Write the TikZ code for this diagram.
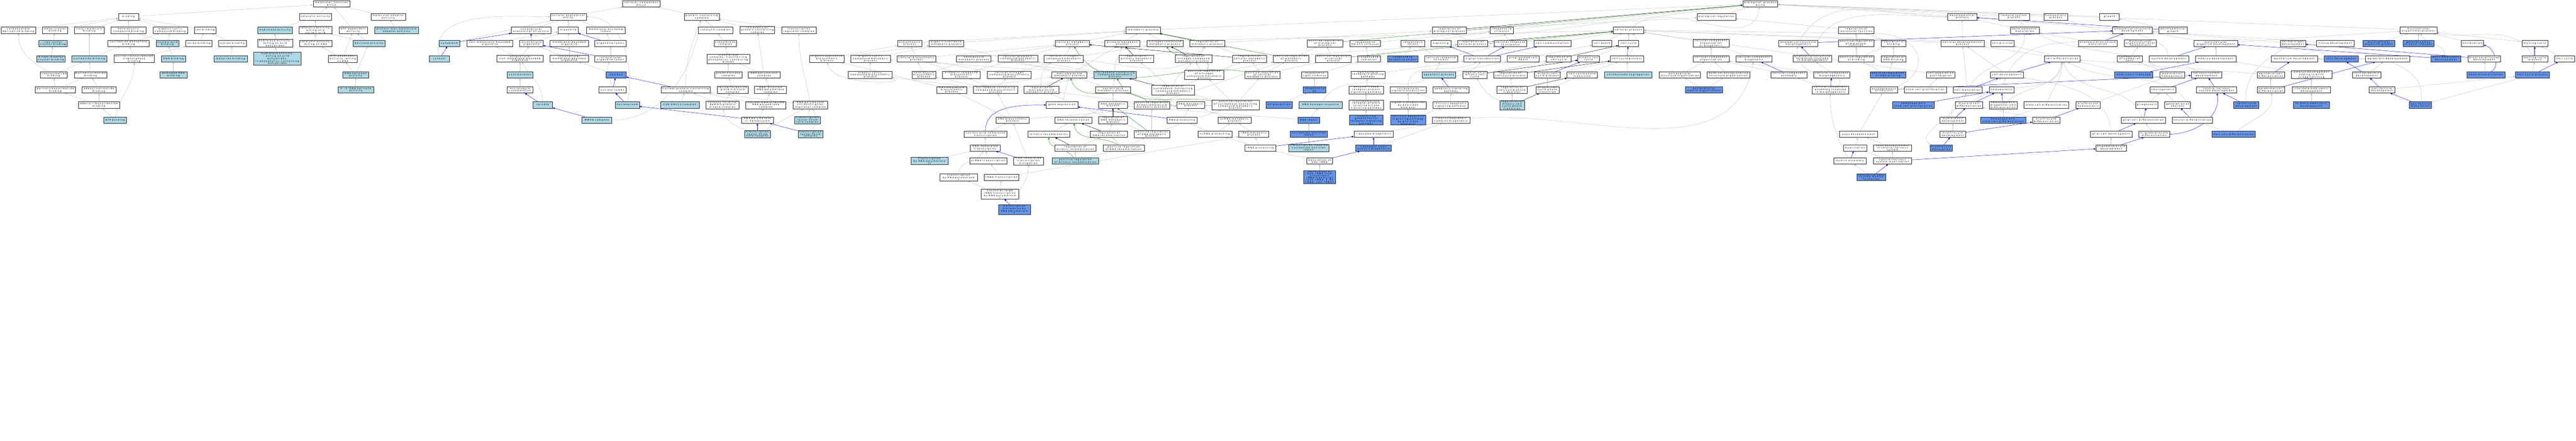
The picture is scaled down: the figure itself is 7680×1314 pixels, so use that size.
\documentclass[tikz,border=0pt]{standalone}
\usepackage{fontspec}
\newfontfamily\gofont[LetterSpace=30]{DejaVu Sans}
\usetikzlibrary{arrows.meta,shadows}
\definecolor{lbfill}{HTML}{ADD8E6}
\definecolor{cffill}{HTML}{6495ED}
\definecolor{edgegray}{HTML}{C0C0C0}
\definecolor{edgegreen}{HTML}{228B22}
\pgfdeclarelayer{bg}
\pgfsetlayers{bg,main}
\tikzset{
 box/.style={draw=black!85, line width=0.6pt, inner sep=0.8pt, minimum height=19pt, align=center,
   font=\gofont\fontsize{6.7}{5.8}\selectfont,
   drop shadow={shadow xshift=0.9pt,shadow yshift=-0.9pt,fill=black!45,opacity=1}},
 wbox/.style={box,fill=white},
 lbbox/.style={box,fill=lbfill},
 cfbox/.style={box,fill=cffill},
 hfour/.style={minimum height=26pt},
 hfive/.style={minimum height=32pt},
 hsix/.style={minimum height=37pt},
 gedge/.style={draw=edgegray, line width=0.7pt, -{Triangle[length=6pt,width=5pt]}},
 bedge/.style={draw=blue, line width=0.7pt, -{Triangle[length=6pt,width=5pt]}},
 bbedge/.style={draw=blue, line width=1.5pt, -{Triangle[length=6pt,width=5pt]}},
 vedge/.style={draw=edgegreen, line width=0.7pt, -{Triangle[length=6pt,width=5pt]}},
 kedge/.style={draw=black, line width=0.7pt, -{Triangle[length=6pt,width=5pt]}}
}
\newcommand\nd[6]{\node[#5,minimum width=#4pt] (#1) at (#2,-#3) {#6};}
\newcommand\lnG[3][]{\draw[gedge] (#2) to[#1] (#3);}
\newcommand\lnB[3][]{\draw[bedge] (#2) to[#1] (#3);}
\newcommand\lnBB[3][]{\draw[bbedge] (#2) to[#1] (#3);}
\newcommand\lnV[3][]{\draw[vedge] (#2) to[#1] (#3);}
\newcommand\lnK[3][]{\draw[kedge] (#2) to[#1] (#3);}
\begin{document}
\begin{tikzpicture}[x=1pt,y=1pt]
\useasboundingbox (0,0) rectangle (7680,-1314);
% ===== molecular function =====
\nd{mf}{988}{11}{109}{wbox}{molecular\_function\\Ercc2}
\nd{bind}{383}{50}{60}{wbox}{binding}
\nd{cat}{940}{50}{96}{wbox}{catalytic activity}
\nd{mad}{1157}{50}{103}{wbox}{molecular adaptor\\activity}
\nd{carb}{55}{90}{103}{wbox}{carbohydrate\\derivative binding}
\nd{metcl}{164}{90}{75}{wbox}{metal cluster\\binding}
\nd{smb}{266}{90}{88}{wbox}{small molecule\\binding}
\nd{het}{383}{90}{104}{wbox}{heterocyclic\\compound binding}
\nd{orgcyc}{508}{90}{104}{wbox}{organic cyclic\\compound binding}
\nd{ion}{612}{90}{65}{wbox}{ion binding}
\nd{hyd}{820}{90}{102}{lbbox}{hydrolase activity}
\nd{canuc}{940}{90}{98}{wbox}{catalytic activity,\\acting on a\\nucleic acid}
\nd{atpd}{1053}{90}{85}{wbox}{ATP-dependent\\activity}
\nd{pma}{1182}{90}{131}{lbbox}{protein-macromolecule\\adaptor activity}
\nd{fes}{158}{129}{85}{lbbox}{iron-sulfur\\cluster binding}
\nd{nph}{383}{129}{122}{wbox}{nucleoside phosphate\\binding}
\nd{nab}{499}{129}{68}{lbbox}{nucleic acid\\binding}
\nd{anion}{593}{129}{78}{wbox}{anion binding}
\nd{cation}{693}{129}{82}{wbox}{cation binding}
\nd{hydaa}{820}{129}{104}{wbox}{hydrolase activity,\\acting on acid\\anhydrides}
\nd{cadna}{941}{129}{98}{wbox}{catalytic activity,\\acting on DNA}
\nd{hel}{1100}{129}{94}{lbbox}{helicase activity}
\nd{fefs}{152}{175}{85}{lbbox}{4 iron, 4 sulfur\\cluster binding}
\nd{ntb}{266}{175}{104}{lbbox}{nucleotide binding}
\nd{prtb}{400}{175}{120}{wbox}{purine ribonucleoside\\triphosphate\\binding}
\nd{dnab}{517}{175}{71}{lbbox}{DNA binding}
\nd{metion}{687}{175}{100}{lbbox}{metal ion binding}
\nd{hydpc}{827}{175}{141}{lbbox,hfive}{hydrolase activity,\\acting on acid\\anhydrides,\\in phosphorus-containing\\anhydrides}
\nd{atpdna}{1022}{175}{86}{wbox}{ATP-dependent\\activity, acting\\on DNA}
\nd{rnb}{160}{223}{81}{wbox}{ribonucleotide\\binding}
\nd{pnb}{270}{223}{98}{wbox}{purine nucleotide\\binding}
\nd{ddna}{517}{223}{82}{lbbox}{damaged DNA\\binding}
\nd{dnahel}{1060}{223}{77}{lbbox}{DNA helicase\\activity}
\nd{prnb}{165}{268}{119}{wbox}{purine ribonucleotide\\binding}
\nd{anb}{295}{268}{102}{wbox}{adenyl nucleotide\\binding}
\nd{hel53}{1061}{268}{105}{lbbox}{5'-3' DNA helicase\\activity}
\nd{arnb}{295}{313}{122}{wbox}{adenyl ribonucleotide\\binding}
\nd{atp}{343}{358}{68}{lbbox}{ATP binding}
% ===== cellular component =====
\nd{cc}{1912}{11}{111}{wbox}{cellular\_component\\Ercc2}
\nd{cae}{1694}{50}{108}{wbox}{cellular anatomical\\entity}
\nd{pcc}{2092}{50}{104}{wbox}{protein-containing\\complex}
\nd{ias}{1583}{90}{117}{wbox}{intracellular\\anatomical structure}
\nd{org}{1694}{90}{60}{wbox}{organelle}
\nd{mel}{1806}{90}{116}{wbox}{membrane-enclosed\\lumen}
\nd{catc}{2133}{90}{102}{wbox}{catalytic complex}
\nd{ipcc}{2258}{90}{103}{wbox}{intracellular\\protein-containing\\complex}
\nd{trc}{2382}{90}{104}{wbox}{transcription\\regulator complex}
\nd{cyto}{1340}{129}{62}{lbbox}{cytoplasm}
\nd{nmbo}{1460}{129}{137}{wbox}{non-membrane-bounded\\organelle}
\nd{io}{1584}{129}{70}{wbox}{intracellular\\organelle}
\nd{mbo}{1697}{129}{115}{wbox}{membrane-bounded\\organelle}
\nd{ol}{1820}{129}{94}{wbox}{organelle lumen}
\nd{tc}{2162}{129}{66}{wbox}{transferase\\complex}
\nd{cytosol}{1310}{175}{60}{lbbox}{cytosol}
\nd{inmbo}{1550}{175}{138}{wbox}{intracellular\\non-membrane-bounded\\organelle}
\nd{imbo}{1697}{175}{115}{wbox}{intracellular\\membrane-bounded\\organelle}
\nd{iol}{1820}{175}{94}{wbox}{intracellular\\organelle lumen}
\nd{tcp}{2171}{175}{128}{wbox,hfour}{transferase\\complex, transferring\\phosphorus-containing\\groups}
\nd{cysk}{1550}{223}{76}{lbbox}{cytoskeleton}
\nd{nuc}{1837}{223}{60}{cfbox}{nucleus}
\nd{pkc}{2171}{223}{81}{wbox}{protein kinase\\complex}
\nd{rnapc}{2278}{223}{95}{wbox}{RNA polymerase\\complex}
\nd{mtc}{1550}{268}{76}{wbox}{microtubule\\cytoskeleton}
\nd{nl}{1826}{268}{82}{wbox}{nuclear lumen}
\nd{npcc}{2044}{268}{146}{wbox}{nuclear protein-containing\\complex}
\nd{stpkc}{2184}{268}{92}{wbox}{serine/threonine\\protein kinase\\complex}
\nd{ddrnap}{2297}{268}{95}{wbox}{DNA-directed\\RNA polymerase\\complex}
\nd{spindle}{1618}{313}{59}{lbbox}{spindle}
\nd{np}{1870}{313}{73}{lbbox}{nucleoplasm}
\nd{cak}{2027}{313}{115}{lbbox}{CAK-ERCC2 complex}
\nd{ctdk}{2154}{313}{98}{wbox}{carboxy-terminal\\domain protein\\kinase complex}
\nd{nddrnap}{2283}{313}{120}{wbox}{nuclear DNA-directed\\RNA polymerase\\complex}
\nd{rnaptrc}{2416}{313}{103}{wbox}{RNA polymerase\\II transcription\\regulator complex}
\nd{mmxd}{1779}{358}{88}{lbbox}{MMXD complex}
\nd{holo}{2258}{358}{95}{wbox}{RNA polymerase\\II, holoenzyme}
\nd{tfiihcore}{2407}{358}{77}{lbbox}{transcription\\factor TFIIH\\core complex}
\nd{tfiihholo}{2258}{400}{77}{lbbox}{transcription\\factor TFIIH\\holo complex}
\nd{tfiid}{2416}{400}{73}{lbbox}{transcription\\factor TFIID\\complex}
% ===== biological process =====
\nd{bp}{5248}{11}{104}{wbox}{biological\_process\\Ercc2}
\nd{breg}{5117}{50}{115}{wbox}{biological regulation}
\nd{dev}{5850}{50}{87}{wbox}{developmental\\process}
\nd{imm}{6004}{50}{92}{wbox}{immune system\\process}
\nd{homeo}{6129}{50}{71}{wbox}{homeostatic\\process}
\nd{growth}{6289}{50}{59}{wbox}{growth}
\nd{met}{3408}{90}{103}{wbox}{metabolic process}
\nd{rbp}{4321}{90}{101}{wbox}{regulation of\\biological process}
\nd{rstim}{4477}{90}{68}{wbox}{response to\\stimulus}
\nd{cp}{4855}{90}{90}{wbox}{cellular process}
\nd{rmf}{5534}{90}{106}{wbox}{regulation of\\molecular function}
\nd{devmat}{6036}{90}{86}{wbox}{developmental\\maturation}
\nd{asd}{6357}{90}{117}{wbox}{anatomical structure\\development}
\nd{devgr}{6478}{90}{85}{wbox}{developmental\\growth}
\nd{mop}{7210}{90}{110}{wbox}{multicellular\\organismal process}
\nd{bios}{2712}{129}{72}{wbox}{biosynthetic\\process}
\nd{osmp}{2821}{129}{103}{wbox}{organic substance\\metabolic process}
\nd{cmp}{3197}{129}{101}{wbox}{cellular metabolic\\process}
\nd{pmp}{3346}{129}{104}{wbox}{primary metabolic\\process}
\nd{ncmp}{3473}{129}{108}{wbox}{nitrogen compound\\metabolic process}
\nd{rmp}{3599}{129}{104}{wbox}{regulation of\\metabolic process}
\nd{prbp}{3950}{129}{106}{wbox}{positive regulation\\of biological\\process}
\nd{rabs}{4070}{129}{91}{wbox}{response to\\abiotic stimulus}
\nd{rstress}{4212}{129}{70}{wbox}{response to\\stress}
\nd{sig}{4295}{129}{60}{wbox}{signaling}
\nd{rcp}{4390}{129}{89}{wbox}{regulation of\\cellular process}
\nd{crstim}{4503}{129}{97}{wbox}{cellular response\\to stimulus}
\nd{ccomm}{4628}{129}{110}{wbox}{cell communication}
\nd{cdeath}{4776}{129}{59}{wbox}{cell death}
\nd{ccycle}{4855}{129}{60}{wbox}{cell cycle}
\nd{ccob}{5101}{129}{108}{wbox}{cellular component\\organization\\or biogenesis}
\nd{asm}{5361}{129}{117}{wbox}{anatomical structure\\morphogenesis}
\nd{prmf}{5534}{129}{106}{wbox}{positive regulation\\of molecular\\function}
\nd{rbind}{5645}{129}{73}{wbox}{regulation of\\binding}
\nd{cdp}{5851}{129}{128}{wbox}{cellular developmental\\process}
\nd{cdiv}{5970}{129}{69}{wbox}{cell division}
\nd{asmat}{6254}{129}{116}{wbox}{anatomical structure\\maturation}
\nd{mol}{6381}{129}{96}{wbox}{multicellular\\organismal-level\\homeostasis}
\nd{mod}{6606}{129}{130}{wbox}{multicellular\\organism development}
\nd{aod}{6836}{129}{75}{wbox}{animal organ\\development}
\nd{tissue}{6962}{129}{111}{wbox}{tissue development}
\nd{mog}{7092}{129}{96}{cfbox}{multicellular\\organism growth}
\nd{dal}{7210}{129}{92}{cfbox}{determination\\of adult lifespan}
\nd{oss}{7371}{129}{66}{wbox}{ossification}
\nd{molt}{7557}{129}{77}{wbox}{molting cycle}
\nd{osbp}{2465}{175}{102}{wbox}{organic substance\\biosynthetic\\process}
\nd{occmp}{2595}{175}{118}{wbox}{organic cyclic\\compound metabolic\\process}
\nd{cbp}{2732}{175}{114}{wbox}{cellular biosynthetic\\process}
\nd{hmp}{2903}{175}{103}{wbox}{heterocycle\\metabolic process}
\nd{cacmp}{3034}{175}{118}{wbox}{cellular aromatic\\compound metabolic\\process}
\nd{cncmp}{3171}{175}{117}{wbox}{cellular nitrogen\\compound metabolic\\process}
\nd{rpmp}{3388}{175}{104}{wbox}{regulation of\\primary metabolic\\process}
\nd{rncmp}{3558}{175}{109}{wbox}{regulation of\\nitrogen compound\\metabolic process}
\nd{rcmp}{3725}{175}{102}{wbox}{regulation of\\cellular metabolic\\process}
\nd{prmp}{3849}{175}{106}{wbox}{positive regulation\\of metabolic\\process}
\nd{prcp}{3975}{175}{106}{wbox}{positive regulation\\of cellular\\process}
\nd{rrad}{4081}{175}{68}{wbox}{response to\\radiation}
\nd{rox}{4182}{175}{91}{cfbox}{response to\\oxidative stress}
\nd{crstress}{4296}{175}{98}{wbox}{cellular response\\to stress}
\nd{st}{4419}{175}{109}{wbox}{signal transduction}
\nd{pcd}{4541}{175}{96}{wbox}{programmed cell\\death}
\nd{rcc}{4647}{175}{73}{wbox}{regulation of\\cell cycle}
\nd{mcc}{4736}{175}{64}{wbox}{mitotic cell\\cycle}
\nd{ccp}{4850}{175}{100}{wbox}{cell cycle process}
\nd{cco}{5101}{175}{108}{wbox}{cellular component\\organization}
\nd{ccb}{5229}{175}{108}{wbox}{cellular component\\biogenesis}
\nd{asfm}{5403}{175}{116}{wbox}{anatomical structure\\formation involved\\in morphogenesis}
\nd{prb}{5534}{175}{106}{wbox}{positive regulation\\of binding}
\nd{rdnab}{5645}{175}{73}{wbox}{regulation of\\DNA binding}
\nd{cdiff}{6148}{175}{105}{wbox}{cell differentiation}
\nd{hnc}{6349}{175}{75}{wbox}{homeostasis\\of number of\\cells}
\nd{sysdev}{6466}{175}{118}{wbox}{system development}
\nd{embdev}{6606}{175}{122}{wbox}{embryo development}
\nd{epdev}{6840}{175}{137}{wbox}{epithelium development}
\nd{skin}{6980}{175}{102}{cfbox}{skin development}
\nd{epid}{7118}{175}{133}{wbox}{epidermis development}
\nd{ped}{7292}{175}{89}{cfbox}{post-embryonic\\development}
\nd{btd}{7406}{175}{97}{wbox}{biomineral tissue\\development}
\nd{mcp}{7557}{175}{77}{wbox}{molting cycle\\process}
\nd{hc}{7646}{175}{60}{wbox}{hair cycle}
\nd{occbp}{2594}{223}{131}{wbox}{organic cyclic\\compound biosynthetic\\process}
\nd{hbp}{2754}{223}{71}{wbox}{heterocycle\\biosynthetic\\process}
\nd{acbp}{2866}{223}{112}{wbox}{aromatic compound\\biosynthetic\\process}
\nd{cncbp}{3009}{223}{131}{wbox}{cellular nitrogen\\compound biosynthetic\\process}
\nd{mmp}{3188}{223}{104}{wbox}{macromolecule\\metabolic process}
\nd{ncmpb}{3324}{223}{126}{lbbox}{nucleobase-containing\\compound metabolic\\process}
\nd{prncmp}{3590}{223}{117}{wbox,hfour}{positive regulation\\of nitrogen\\compound metabolic\\process}
\nd{prcmp}{3763}{223}{105}{wbox}{positive regulation\\of cellular\\metabolic process}
\nd{rls}{3919}{223}{78}{wbox}{response to\\light stimulus}
\nd{csr}{4078}{223}{102}{wbox}{cell surface\\receptor signaling\\pathway}
\nd{apo}{4290}{223}{100}{lbbox}{apoptotic process}
\nd{rmcc}{4397}{223}{73}{wbox}{regulation of\\mitotic cell\\cycle}
\nd{rccp}{4503}{223}{100}{wbox}{regulation of\\cell cycle process}
\nd{mccp}{4613}{223}{77}{wbox}{mitotic cell\\cycle process}
\nd{ccpt}{4717}{223}{91}{wbox}{cell cycle phase\\transition}
\nd{chrom}{4854}{223}{142}{lbbox}{chromosome segregation}
\nd{eso}{5008}{223}{123}{wbox}{extracellular\\structure organization}
\nd{eeso}{5153}{223}{128}{wbox}{external encapsulating\\structure organization}
\nd{cca}{5333}{223}{108}{wbox}{cellular component\\assembly}
\nd{ccm}{5461}{223}{108}{wbox}{cellular component\\morphogenesis}
\nd{prdnab}{5629}{223}{106}{cfbox}{positive regulation\\of DNA binding}
\nd{cpp}{5786}{223}{85}{wbox}{cell population\\proliferation}
\nd{cdev}{5983}{223}{98}{wbox}{cell development}
\nd{emcl}{6361}{223}{114}{cfbox}{embryonic cleavage}
\nd{mch}{6476}{223}{74}{wbox}{myeloid cell\\homeostasis}
\nd{nsd}{6578}{223}{91}{wbox}{nervous system\\development}
\nd{epcd}{6770}{223}{81}{wbox}{epithelial cell\\differentiation}
\nd{edeb}{6891}{223}{121}{wbox}{embryo development\\ending in birth\\or egg hatching}
\nd{sed}{7056}{223}{84}{wbox}{skin epidermis\\development}
\nd{bmin}{7411}{223}{113}{cfbox}{bone mineralization}
\nd{hcp}{7550}{223}{101}{cfbox}{hair cycle process}
\nd{mbp}{2837}{268}{89}{wbox}{macromolecule\\biosynthetic\\process}
\nd{ncbp}{2968}{268}{131}{wbox}{nucleobase-containing\\compound biosynthetic\\process}
\nd{rmmp}{3105}{268}{105}{wbox}{regulation of\\macromolecule\\metabolic process}
\nd{namp}{3318}{268}{103}{wbox}{nucleic acid\\metabolic process}
\nd{rncmpb}{3497}{268}{127}{wbox,hfour}{regulation of\\nucleobase-containing\\compound metabolic\\process}
\nd{ruv}{3919}{268}{68}{cfbox}{response to\\UV}
\nd{elrp}{4073}{268}{103}{wbox}{enzyme-linked\\receptor protein\\signaling pathway}
\nd{ist}{4198}{268}{108}{wbox}{intracellular\\signal transduction}
\nd{asp}{4326}{268}{108}{wbox}{apoptotic signaling\\pathway}
\nd{rccpt}{4508}{268}{91}{wbox}{regulation of\\cell cycle phase\\transition}
\nd{mccpt}{4613}{268}{69}{wbox}{mitotic cell\\cycle phase\\transition}
\nd{ecmo}{5080}{268}{110}{cfbox}{extracellular\\matrix organization}
\nd{ccaim}{5457}{268}{108}{wbox}{cellular component\\assembly involved\\in morphogenesis}
\nd{eon}{5617}{268}{82}{wbox}{ensheathment\\of neurons}
\nd{scp}{5740}{268}{125}{wbox}{stem cell proliferation}
\nd{cmat}{5866}{268}{86}{wbox}{cell maturation}
\nd{hemo}{5967}{268}{74}{wbox}{hemopoiesis}
\nd{neurog}{6448}{268}{77}{wbox}{neurogenesis}
\nd{cnsd}{6608}{268}{119}{wbox}{central nervous\\system development}
\nd{edcd}{6770}{268}{81}{wbox}{epidermal cell\\differentiation}
\nd{ced}{6891}{268}{113}{wbox}{chordate embryonic\\development}
\nd{hfd}{7101}{268}{76}{wbox}{hair follicle\\development}
\nd{gexp}{3166}{313}{94}{wbox}{gene expression}
\nd{dnamp}{3318}{313}{86}{wbox}{DNA metabolic\\process}
\nd{prmmp}{3434}{313}{105}{wbox}{positive regulation\\of macromolecule\\metabolic process}
\nd{rnamp}{3550}{313}{84}{wbox}{RNA metabolic\\process}
\nd{prncmpb}{3683}{313}{141}{wbox,hfour}{positive regulation\\of nucleobase-containing\\compound metabolic\\process}
\nd{uvp}{3813}{313}{78}{cfbox}{UV protection}
\nd{ddr}{3937}{313}{128}{lbbox}{DNA damage response}
\nd{tmrtk}{4073}{313}{103}{wbox,hfour}{transmembrane\\receptor protein\\tyrosine kinase\\signaling pathway}
\nd{stp}{4198}{313}{108}{wbox}{signal transduction\\by p53 class\\mediator}
\nd{iasp}{4324}{313}{104}{wbox}{intrinsic apoptotic\\signaling pathway}
\nd{rmccpt}{4508}{313}{73}{lbbox,hfour}{regulation of\\mitotic cell\\cycle phase\\transition}
\nd{hscp}{5704}{313}{124}{cfbox}{hematopoietic\\stem cell proliferation}
\nd{mcd}{5870}{313}{81}{wbox}{myeloid cell\\differentiation}
\nd{hpcd}{5972}{313}{82}{wbox}{hematopoietic\\progenitor cell\\differentiation}
\nd{scd}{6101}{313}{134}{wbox}{stem cell differentiation}
\nd{eh}{6225}{313}{73}{wbox}{erythrocyte\\homeostasis}
\nd{glio}{6400}{313}{66}{wbox}{gliogenesis}
\nd{gon}{6492}{313}{77}{wbox}{generation of\\neurons}
\nd{scdev}{6697}{313}{75}{cfbox}{spinal cord\\development}
\nd{iued}{6891}{313}{107}{cfbox}{in utero embryonic\\development}
\nd{hfm}{7216}{313}{66}{cfbox}{hair follicle\\maturation}
\nd{rnabp}{3018}{358}{98}{wbox}{RNA biosynthetic\\process}
\nd{dnarec}{3200}{358}{111}{wbox}{DNA recombination}
\nd{rdnamp}{3318}{358}{86}{wbox}{regulation of\\DNA metabolic\\process}
\nd{rnaproc}{3524}{358}{89}{wbox}{RNA processing}
\nd{ncrnamp}{3680}{358}{98}{wbox}{ncRNA metabolic\\process}
\nd{dnarep}{3902}{358}{65}{cfbox}{DNA repair}
\nd{igf}{4073}{358}{101}{cfbox,hfour}{insulin-like\\growth factor\\receptor signaling\\pathway}
\nd{iap}{4198}{358}{104}{cfbox,hfour}{intrinsic apoptotic\\signaling pathway\\by p53 class\\mediator}
\nd{rnpcb}{4326}{358}{112}{wbox}{ribonucleoprotein\\complex biogenesis}
\nd{mcdev}{5822}{358}{76}{wbox}{myeloid cell\\development}
\nd{hscd}{5972}{358}{135}{cfbox}{hematopoietic\\stem cell differentiation}
\nd{ediff}{6100}{358}{81}{wbox}{erythrocyte\\differentiation}
\nd{gcd}{6390}{358}{131}{wbox}{glial cell differentiation}
\nd{nd}{6536}{358}{121}{wbox}{neuron differentiation}
\nd{natt}{2938}{400}{128}{wbox}{nucleic acid-templated\\transcription}
\nd{mrec}{3127}{400}{124}{wbox}{mitotic recombination}
\nd{rdnarec}{3306}{400}{110}{wbox}{regulation of\\DNA recombination}
\nd{prdnamp}{3434}{400}{105}{wbox}{positive regulation\\of DNA metabolic\\process}
\nd{ncrnaproc}{3622}{400}{101}{wbox}{ncRNA processing}
\nd{rrnamp}{3738}{400}{89}{wbox}{rRNA metabolic\\process}
\nd{ner}{3902}{400}{111}{cfbox}{nucleotide-excision\\repair}
\nd{ribo}{4095}{400}{117}{wbox}{ribosome biogenesis}
\nd{axens}{5541}{400}{113}{wbox}{axon ensheathment}
\nd{edev}{5822}{400}{76}{wbox}{erythrocyte\\development}
\nd{gcdev}{6294}{400}{124}{wbox}{glial cell development}
\nd{odiff}{6422}{400}{92}{wbox}{oligodendrocyte\\differentiation}
\nd{hcd}{6659}{400}{128}{cfbox}{hair cell differentiation}
\nd{dtt}{2937}{441}{89}{wbox}{DNA-templated\\transcription}
\nd{rmrec}{3206}{441}{124}{wbox}{regulation of\\mitotic recombination}
\nd{prdnarec}{3350}{441}{123}{wbox}{positive regulation\\of DNA recombination}
\nd{rrnaproc}{3757}{441}{93}{wbox}{rRNA processing}
\nd{tcner}{3902}{441}{119}{lbbox}{transcription-coupled\\nucleotide-excision\\repair}
\nd{rssb}{4095}{441}{106}{cfbox}{ribosomal small\\subunit biogenesis}
\nd{myel}{5530}{441}{69}{wbox}{myelination}
\nd{aecns}{5642}{441}{113}{wbox}{axon ensheathment\\in central nervous\\system}
\nd{emat}{5787}{441}{67}{cfbox}{erythrocyte\\maturation}
\nd{odev}{6294}{441}{91}{wbox}{oligodendrocyte\\development}
\nd{trpii}{2771}{480}{111}{lbbox}{transcription\\by RNA polymerase\\II}
\nd{ncrnat}{2946}{480}{111}{wbox}{ncRNA transcription}
\nd{dtte}{3066}{480}{88}{wbox}{DNA-templated\\transcription\\elongation}
\nd{prmrec}{3206}{480}{137}{lbbox}{positive regulation\\of mitotic recombination}
\nd{mssu}{3934}{480}{77}{wbox}{maturation of\\SSU-rRNA}
\nd{myas}{5515}{480}{97}{wbox}{myelin assembly}
\nd{cnsm}{5642}{480}{113}{wbox}{central nervous\\system myelination}
\nd{trpi}{2858}{529}{111}{wbox}{transcription\\by RNA polymerase\\I}
\nd{rrnat}{2986}{529}{103}{wbox}{rRNA transcription}
\nd{mssutri}{3934}{528}{95}{cfbox,hsix}{maturation of\\SSU-rRNA from\\tricistronic\\rRNA transcript\\(SSU-rRNA, 5.8S\\rRNA, LSU-rRNA)}
\nd{cnsmf}{5579}{528}{87}{cfbox}{central nervous\\system myelin\\formation}
\nd{nlrt}{2981}{579}{111}{wbox,hfour}{nucleolar large\\rRNA transcription\\by RNA polymerase\\I}
\nd{tep}{3024}{625}{95}{cfbox,hfour}{transcription\\elongation by\\RNA polymerase\\I}
\begin{pgfonlayer}{bg}
\fill[white] (0,0) rectangle (7680,-1314);
% MF edges
\lnG{bind}{mf}\lnG{cat}{mf}\lnG{mad}{mf}\lnG{atpd}{mf}
\lnG{carb}{bind}\lnG{metcl}{bind}\lnG{smb}{bind}\lnG{het}{bind}\lnG{orgcyc}{bind}\lnG{ion}{bind}
\lnG{hyd}{cat}\lnG{canuc}{cat}\lnG{pma}{mad}\lnG{fes}{metcl}
\lnG{nph}{het}\lnG{nph}{orgcyc}\lnG{nab}{het}\lnG{nab}{orgcyc}
\lnG{anion}{ion}\lnG{cation}{ion}\lnG{hydaa}{hyd}\lnG{cadna}{canuc}\lnG{hel}{canuc}\lnG{hel}{atpd}
\lnG{fefs}{fes}\lnG{ntb}{nph}\lnG{ntb}{smb}\lnG{prtb}{nph}\lnG{prtb}{anion}\lnG{dnab}{nab}\lnG{metion}{cation}\lnG{hydpc}{hydaa}\lnG{atpdna}{cadna}\lnG{atpdna}{atpd}
\lnG{rnb}{ntb}\lnG[out=150,in=-90]{rnb}{carb}\lnG{pnb}{ntb}\lnG{ddna}{dnab}\lnG{dnahel}{atpdna}\lnG{dnahel}{hel}
\lnG{prnb}{rnb}\lnG{prnb}{pnb}\lnG{anb}{pnb}\lnG{hel53}{dnahel}\lnG{arnb}{prnb}\lnG{arnb}{anb}\lnG{atp}{arnb}\lnG[out=80,in=-90]{atp}{prtb}
% CC edges
\lnG{cae}{cc}\lnG{pcc}{cc}
\lnG{ias}{cae}\lnG{org}{cae}\lnG{mel}{cae}\lnG{cyto}{cae}\lnG[out=100,in=180]{cytosol}{cae}\lnG[out=80,in=0]{np}{cae}
\lnB{cyto}{ias}\lnG{nmbo}{org}\lnG{io}{org}\lnB{io}{ias}\lnG{mbo}{org}\lnB{ol}{org}\lnG{ol}{mel}\lnB{cytosol}{cyto}
\lnG{inmbo}{nmbo}\lnG{inmbo}{io}\lnG{imbo}{io}\lnG{imbo}{mbo}\lnB{iol}{io}\lnG{iol}{ol}
\lnG{cysk}{inmbo}\lnG{nuc}{imbo}\lnG{mtc}{cysk}\lnB{nl}{nuc}\lnG[out=100,in=-110]{nl}{iol}
\lnB{spindle}{mtc}\lnG[out=90,in=-60]{spindle}{inmbo}\lnB{np}{nl}\lnB{mmxd}{spindle}\lnG[out=0,in=-100]{mmxd}{pcc}
\lnG[out=90,in=-110]{npcc}{pcc}\lnB{npcc}{nuc}\lnG{catc}{pcc}\lnG{ipcc}{pcc}\lnG{trc}{pcc}
\lnG{tc}{catc}\lnG{tcp}{tc}\lnG{pkc}{tcp}\lnG{rnapc}{tcp}\lnG{rnapc}{ipcc}\lnG{stpkc}{pkc}\lnG{ddrnap}{rnapc}
\lnG{cak}{npcc}\lnG{ctdk}{npcc}\lnG{ctdk}{stpkc}\lnG{nddrnap}{npcc}\lnG{nddrnap}{ddrnap}\lnG{rnaptrc}{npcc}\lnG[out=100,in=-90]{rnaptrc}{trc}
\lnG{holo}{nddrnap}\lnB{holo}{np}\lnG{tfiihcore}{rnaptrc}\lnBB{tfiihholo}{holo}\lnG[out=160,in=-80]{tfiihholo}{ctdk}\lnG{tfiihholo}{rnaptrc}\lnB{tfiid}{holo}\lnG[out=60,in=-60]{tfiid}{rnaptrc}
% BP top
\lnG{breg}{bp}\lnG{dev}{bp}\lnG{imm}{bp}\lnG{homeo}{bp}\lnG{growth}{bp}\lnG{met}{bp}\lnG{rstim}{bp}\lnG[out=40,in=-100]{cp}{bp}\lnG{mop}{bp}\lnG{sig}{bp}
\lnK{rbp}{bp}\lnV{prbp}{bp}
\lnG{rbp}{breg}\lnG{rmf}{breg}
\lnG{devmat}{dev}\lnG{asd}{dev}\lnG{cdp}{dev}\lnB{devgr}{dev}\lnG{devgr}{growth}
% metabolic
\lnG{bios}{met}\lnG{osmp}{met}\lnG{cmp}{met}\lnG{pmp}{met}\lnG{ncmp}{met}\lnK{rmp}{met}\lnV{prmp}{met}
\lnG{cmp}{cp}\lnG{rmp}{rbp}
\lnG{osbp}{bios}\lnG{osbp}{osmp}\lnG{occmp}{osmp}
\lnG{cbp}{bios}\lnG{cbp}{cmp}\lnG{hmp}{cmp}\lnG{cacmp}{cmp}\lnG{cncmp}{cmp}\lnG{cncmp}{ncmp}
\lnG{occbp}{occmp}\lnG[out=-10,in=-80]{occbp}{osbp}
\lnG{hbp}{hmp}\lnG{hbp}{cbp}\lnG{acbp}{cbp}\lnG{acbp}{cacmp}\lnG{cncbp}{cncmp}\lnG{cncbp}{cbp}
\lnG{mmp}{pmp}\lnG{mmp}{osmp}
\lnG{ncmpb}{hmp}\lnG{ncmpb}{cacmp}\lnG{ncmpb}{cncmp}\lnG[out=95,in=-100]{ncmpb}{pmp}\lnG{ncmpb}{occmp}
\lnG{mbp}{mmp}\lnG{mbp}{osbp}
\lnG{ncbp}{ncmpb}\lnG{ncbp}{hbp}\lnG{ncbp}{acbp}\lnG{ncbp}{cncbp}\lnG{ncbp}{occbp}
\lnK{rmmp}{mmp}\lnG[out=95,in=-120]{rmmp}{rmp}
\lnG{gexp}{mmp}\lnV[out=140,in=-70]{prmmp}{mmp}
\lnG{rnabp}{mbp}\lnG{rnabp}{ncbp}\lnG{rnabp}{rnamp}
\lnG{natt}{rnabp}\lnB[out=90,in=180]{natt}{gexp}
\lnG{dtt}{natt}\lnG{trpii}{dtt}\lnG{ncrnat}{dtt}\lnB{dtte}{dtt}\lnG{dtte}{rnabp}\lnG[out=90,in=-120]{trpi}{dtt}
\lnG{rrnat}{ncrnat}\lnG{rrnat}{rrnamp}\lnG{nlrt}{trpi}\lnG{nlrt}{rrnat}\lnB{tep}{nlrt}\lnG[out=80,in=-90]{tep}{dtte}
\lnG{mrec}{dnarec}\lnG{dnarec}{dnamp}\lnK{rmrec}{mrec}\lnV[out=120,in=-90]{prmrec}{mrec}\lnG{prmrec}{rmrec}\lnG{prmrec}{prdnarec}\lnG{rmrec}{rdnarec}
\lnK{rpmp}{pmp}\lnG{rpmp}{rmp}\lnK{rncmp}{ncmp}\lnG{rncmp}{rmp}\lnK{rcmp}{cmp}\lnG{rcmp}{rmp}\lnG{rcmp}{rcp}\lnG{prmp}{rmp}\lnG{prmp}{prbp}
\lnG{namp}{ncmpb}\lnG{namp}{mmp}
\lnK{rncmpb}{ncmpb}\lnG{rncmpb}{rpmp}\lnG[out=80,in=-120]{rncmpb}{rncmp}\lnG{rncmpb}{rcmp}
\lnV[out=60,in=-60]{prncmp}{ncmp}\lnG{prncmp}{rncmp}\lnG{prncmp}{prmp}
\lnV[out=170,in=-60]{prcmp}{cmp}\lnG{prcmp}{rcmp}\lnG{prcmp}{prmp}\lnG{prcmp}{prcp}
\lnG{dnamp}{namp}\lnG{rnamp}{namp}
\lnG{prmmp}{rmmp}\lnG{prmmp}{prmp}
\lnV[out=170,in=-60]{prncmpb}{ncmpb}\lnG{prncmpb}{rncmpb}\lnG{prncmpb}{prncmp}\lnG{prncmpb}{prcmp}\lnG{prncmpb}{prmmp}
\lnG{rnaproc}{rnamp}\lnB{rnaproc}{gexp}\lnG{ncrnamp}{rnamp}\lnG{ncrnaproc}{ncrnamp}\lnG{ncrnaproc}{rnaproc}\lnG{rrnamp}{ncrnamp}\lnG{rrnaproc}{rrnamp}\lnG{rrnaproc}{ncrnaproc}
\lnK{rdnamp}{dnamp}\lnG[out=150,in=-150]{rdnamp}{rncmpb}\lnG{rdnamp}{rmmp}
\lnK{rdnarec}{dnarec}\lnG{rdnarec}{rdnamp}
\lnV{prdnamp}{dnamp}\lnG{prdnamp}{rdnamp}\lnG{prdnamp}{prmmp}\lnG{prdnamp}{prncmpb}
\lnV[out=150,in=-80]{prdnarec}{dnarec}\lnG{prdnarec}{rdnarec}\lnG{prdnarec}{prdnamp}
\lnG{uvp}{ruv}
% response & signaling
\lnG{rabs}{rstim}\lnG{rstress}{rstim}\lnG{rrad}{rabs}\lnG{rls}{rrad}\lnG{ruv}{rls}\lnG{rox}{rstress}\lnG{crstress}{rstress}\lnG{crstress}{crstim}\lnG[out=60,in=-110]{ddr}{crstress}
\lnG{dnarep}{ddr}\lnG{dnarep}{dnamp}\lnG{ner}{dnarep}\lnG{tcner}{ner}\lnG{crstim}{rstim}\lnG{crstim}{cp}
\lnG{rcp}{rbp}\lnK{rcp}{cp}
\lnV{prcp}{cp}\lnG{prcp}{prbp}\lnG{prcp}{rcp}
\lnB{st}{sig}\lnB{st}{crstim}\lnB{st}{ccomm}\lnG{csr}{st}\lnG{elrp}{csr}\lnG{tmrtk}{elrp}\lnG{igf}{tmrtk}\lnG[out=90,in=-150]{ist}{st}\lnG{stp}{ist}\lnG{iap}{stp}\lnG{iap}{iasp}
\lnG{apo}{pcd}\lnB{asp}{apo}\lnG[out=150,in=-120]{asp}{st}\lnG{iasp}{asp}\lnG{iasp}{ist}\lnG{pcd}{cdeath}\lnG{cdeath}{cp}\lnG{ccomm}{cp}
% cell cycle
\lnG{ccycle}{cp}\lnG[out=60,in=-40]{ccp}{cp}\lnB{ccp}{ccycle}\lnG{mcc}{ccycle}\lnG{chrom}{ccp}\lnG{mccp}{ccp}\lnB{mccp}{mcc}\lnG{ccpt}{ccp}\lnG{mccpt}{mccp}\lnG{mccpt}{ccpt}
\lnK{rcc}{ccycle}\lnG{rcc}{rcp}\lnK{rmcc}{mcc}\lnG{rmcc}{rcc}\lnK{rccp}{ccp}\lnG{rccp}{rcc}\lnK{rccpt}{ccpt}\lnG{rccpt}{rccp}\lnK{rmccpt}{mccpt}\lnG{rmccpt}{rccpt}\lnG[out=160,in=-60]{rmccpt}{rmcc}
% component organization
\lnG{ccob}{cp}\lnG{cco}{ccob}\lnG{ccb}{ccob}\lnG{eso}{cco}\lnG{eeso}{cco}\lnG{ecmo}{eso}\lnG{ecmo}{eeso}\lnB{cca}{ccb}\lnG{cca}{cco}\lnG{ccm}{cco}\lnG[out=170,in=-100]{ccm}{asm}
\lnB{ccaim}{ccm}\lnG{ccaim}{cca}\lnG[out=30,in=-40]{ccaim}{asfm}\lnB{asfm}{asm}\lnG[out=80,in=180]{asfm}{dev}\lnG[out=60,in=180]{asm}{dev}\lnB{asm}{asd}
\lnG{prmf}{rmf}\lnG{rbind}{rmf}\lnG{prb}{prmf}\lnG{prb}{rbind}\lnG{rdnab}{rbind}\lnG{prdnab}{prb}\lnG{prdnab}{rdnab}
% myelin
\lnB{eon}{nsd}
\draw[gedge] (eon.north east) .. controls (5760,-210) and (5730,-105) .. (5600,-100) -- (cp.east);
\lnG{axens}{eon}\lnG{myel}{axens}\lnG{aecns}{axens}\lnB{myas}{myel}\lnG[out=120,in=-90]{myas}{ccaim}\lnG{cnsm}{myel}\lnG{cnsm}{aecns}\lnB{cnsm}{odev}\lnG{cnsmf}{myas}\lnB{cnsmf}{cnsm}
% development
\lnG{scp}{cpp}\lnG[out=160,in=-110]{emat}{cmat}\lnB{emat}{edev}\lnG{cpp}{cp}\lnG{cdp}{cp}\lnG{cdiv}{cp}
\lnG{cdiff}{cdp}\lnB{cdev}{cdiff}\lnG{cdev}{cdp}\lnG[out=60,in=-160]{cdev}{asd}\lnG{cmat}{cdp}\lnG[out=60,in=-90]{cmat}{devmat}\lnB{cmat}{cdev}
\lnG{hemo}{cdev}\lnG[out=150,in=-40]{mch}{imm}\lnB{hscp}{hemo}\lnB{mcd}{hemo}\lnB{hpcd}{hemo}\lnG[out=40,in=-100]{mcd}{cdiff}\lnG[out=40,in=-95]{hpcd}{cdiff}\lnG[out=70,in=-90]{scd}{cdiff}
\lnG{eh}{mch}\lnB{mcdev}{mcd}\lnG[out=100,in=-150]{mcdev}{cdev}\lnG{hscd}{hpcd}\lnG{hscd}{scd}\lnG{ediff}{mcd}\lnB{ediff}{eh}\lnG{edev}{mcdev}\lnB{edev}{ediff}
\lnG{glio}{neurog}\lnB{gcd}{glio}\lnG[out=110,in=-70]{gcd}{cdiff}\lnB{gcdev}{gcd}\lnG[out=95,in=-10]{gcdev}{cdev}\lnG{odiff}{gcd}\lnB[out=0,in=-80]{odiff}{cnsd}\lnG{odev}{gcdev}\lnB{odev}{odiff}
\lnG{gon}{neurog}\lnB{neurog}{nsd}\lnB{nd}{gon}\lnG[out=100,in=-30]{nd}{cdiff}\lnG{hcd}{nd}\lnG[out=40,in=-80]{hcd}{edcd}
\lnB{cnsd}{nsd}\lnB{scdev}{cnsd}\lnG[out=95,in=-150]{scdev}{aod}
\lnG{nsd}{sysdev}\lnB{sysdev}{mod}\lnG[out=100,in=-30]{sysdev}{asd}
\lnG{embdev}{mod}\lnG{mod}{asd}\lnG{mod}{mop}\lnG{aod}{asd}\lnG{tissue}{asd}
\lnG{epdev}{tissue}\lnG{skin}{aod}\lnB{epcd}{epdev}\lnG{epcd}{cdiff}\lnG{edcd}{epcd}\lnB{edcd}{epid}
\lnG{edeb}{embdev}\lnG{ced}{edeb}\lnG{iued}{ced}\lnB{emcl}{embdev}\lnG{emcl}{cdiv}
\lnG{mch}{hnc}\lnG{hnc}{mol}\lnG{mol}{homeo}
\lnG{asmat}{devmat}\lnB{asmat}{asd}
\lnG{sed}{epid}\lnB{sed}{skin}\lnG{epid}{epdev}\lnB{hfd}{sed}\lnG{hfd}{hcp}\lnB{hfm}{hfd}\lnG{hfm}{hcp}\lnG[out=80,in=-20]{hfm}{tissue}
\lnG{mog}{mop}\lnG{dal}{mop}\lnG{oss}{mop}\lnG{molt}{mop}\lnG[out=100,in=-60]{ped}{mop}\lnB{ped}{mod}\lnB{btd}{aod}\lnG[out=120,in=-10]{mcp}{mop}\lnG{hc}{molt}\lnBB{mcp}{molt}\lnG{hcp}{mcp}\lnB{hcp}{hc}\lnG{bmin}{btd}\lnB[out=30,in=-10]{bmin}{oss}
% ribosome
\lnG{ribo}{rnpcb}\lnG[out=5,in=-100]{rnpcb}{ccb}\lnB{rssb}{ribo}\lnG{rssb}{rnpcb}\lnB{rrnaproc}{ribo}\lnB{mssu}{rssb}\lnG{mssu}{rrnaproc}\lnG{mssutri}{mssu}
\end{pgfonlayer}
\end{tikzpicture}
\end{document}
